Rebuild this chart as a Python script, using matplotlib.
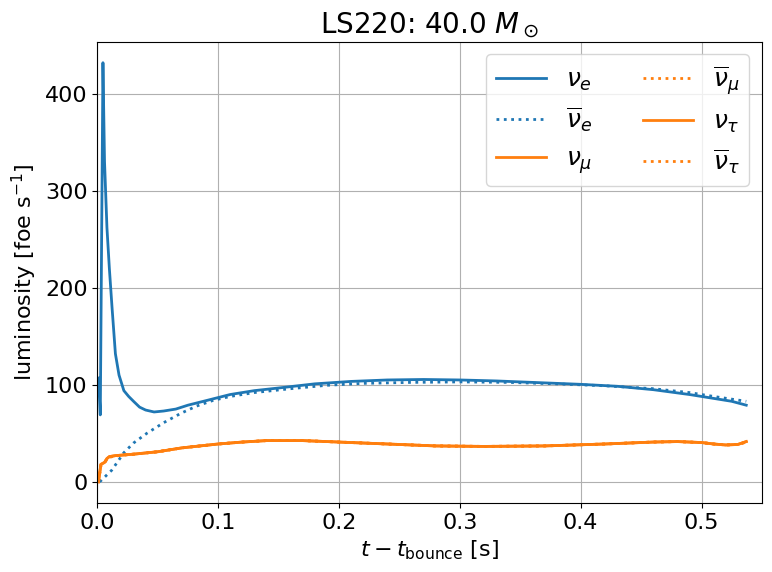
import numpy as np
import matplotlib
matplotlib.use("Agg")
import matplotlib.pyplot as plt

# electron neutrino luminosity (foe/s)
t_nue = [0.001, 0.0025, 0.0047, 0.006, 0.008, 0.010, 0.0122, 0.015, 0.018, 0.022, 0.026,
         0.030, 0.035, 0.040, 0.047, 0.055, 0.065, 0.075, 0.091, 0.11, 0.13, 0.152,
         0.18, 0.21, 0.24, 0.27, 0.30, 0.33, 0.36, 0.40, 0.43, 0.46, 0.49, 0.51, 0.525, 0.537]
L_nue = [107, 69, 432, 330, 262, 220, 180, 132, 110, 94, 88,
         83, 77, 74, 72, 73, 75, 79, 84, 90, 94, 97,
         101, 103.5, 105, 105.5, 105, 104, 102.5, 100.5, 98.5, 95, 90, 86, 83, 79]

# electron antineutrino
t_anue = [0.002, 0.0066, 0.012, 0.017, 0.022, 0.030, 0.041, 0.055, 0.069, 0.082, 0.096,
          0.11, 0.13, 0.16, 0.19, 0.22, 0.26, 0.30, 0.34, 0.38, 0.42, 0.46, 0.49, 0.51, 0.537]
L_anue = [0, 5.5, 12, 21, 30, 40, 50, 61, 70.5, 78, 84,
          88, 92, 96, 99.5, 101.5, 102.5, 103, 102.5, 101, 99, 96, 92, 88, 83]

# heavy-lepton neutrinos (mu / tau)
t_nux = [0.001, 0.003, 0.006, 0.008, 0.010, 0.015, 0.02, 0.03, 0.05, 0.07, 0.10,
         0.12, 0.14, 0.17, 0.20, 0.22, 0.25, 0.28, 0.32, 0.37, 0.42, 0.46, 0.48,
         0.50, 0.51, 0.52, 0.53, 0.537]
L_nux = [0, 18, 20, 24, 26, 27, 27.5, 28.5, 31, 35, 39,
         41, 42.5, 42.5, 41, 40, 38.5, 37, 36.5, 37, 39, 41, 41.5,
         40.5, 39, 38, 38.5, 41.5]

L_anux = [0, 17, 19.5, 23.5, 25.5, 26.5, 27.5, 28.5, 31, 35, 39,
          41, 42.5, 42.5, 41, 40, 38.5, 37, 36.5, 37, 39, 41, 41.5,
          40.5, 39, 38, 38.5, 41]

plt.rcParams['font.size'] = 16
fig, ax = plt.subplots(figsize=(7.72, 5.72), dpi=100)

ax.plot(t_nue, L_nue, color='C0', lw=2, label=r'$\nu_e$')
ax.plot(t_anue, L_anue, color='C0', lw=2, ls=':', label=r'$\overline{\nu}_e$')
ax.plot(t_nux, L_nux, color='C1', lw=2, label=r'$\nu_\mu$')
ax.plot(t_nux, L_anux, color='C1', lw=2, ls=':', label=r'$\overline{\nu}_\mu$')
ax.plot(t_nux, L_nux, color='C1', lw=2, label=r'$\nu_\tau$')
ax.plot(t_nux, L_anux, color='C1', lw=2, ls=':', label=r'$\overline{\nu}_\tau$')

ax.set_xlim(0, 0.55)
ax.set_title(r'LS220: 40.0 $M_\odot$', fontsize=20)
ax.set_xlabel(r'$t - t_{\rm bounce}$ [s]')
ax.set_ylabel(r'luminosity [foe s$^{-1}$]')
ax.grid(True)
ax.legend(ncol=2, loc='upper right', fontsize=18)

plt.subplots_adjust(left=0.126, right=0.987, top=0.927, bottom=0.121)
plt.savefig('out.png')
